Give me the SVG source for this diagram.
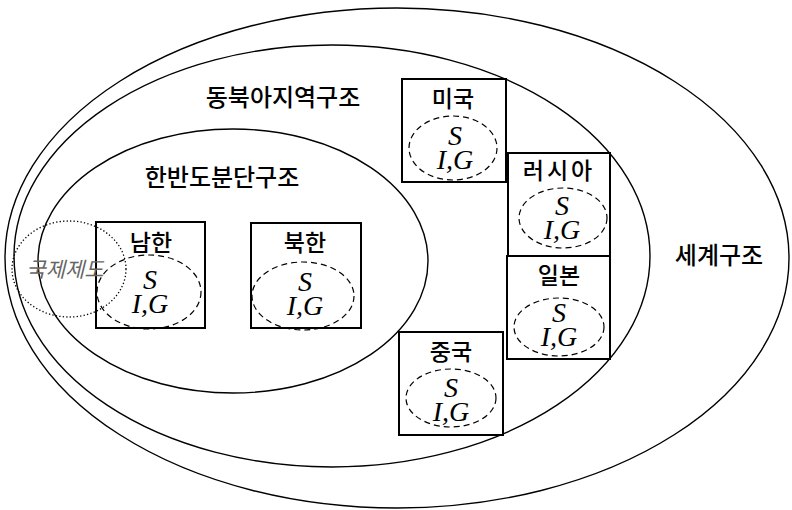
<svg xmlns="http://www.w3.org/2000/svg" width="792" height="510" viewBox="0 0 792 510">
<style>
.ring{fill:none;stroke:#000;stroke-width:1.4}
.box{fill:#fff;stroke:#000;stroke-width:2}
.dash{fill:none;stroke:#000;stroke-width:1.2;stroke-dasharray:6 4}
.dot{fill:none;stroke:#000;stroke-width:1.3;stroke-dasharray:1.3 2.2}
.title{font-family:"Noto Sans CJK KR","Noto Sans",sans-serif;font-size:24px;font-weight:500;fill:#000;text-anchor:middle}
.lab{font-family:"Noto Sans CJK KR","Noto Sans",sans-serif;font-size:23px;font-weight:500;fill:#000;text-anchor:middle}
.var{font-family:"Liberation Serif",serif;font-style:italic;font-size:28px;fill:#000;text-anchor:middle}
.gray{font-family:"Noto Sans CJK KR","Noto Sans",sans-serif;font-size:21px;fill:#666;text-anchor:middle;font-style:italic}
</style>
<rect width="792" height="510" fill="#fff"/>
<g id="world">
<ellipse class="ring" cx="397" cy="258" rx="392" ry="250"/>
<text class="title" x="719" y="264">세계구조</text>
</g>
<g id="northeast-asia">
<ellipse class="ring" cx="332" cy="256" rx="318" ry="211"/>
<text class="title" x="283" y="106">동북아지역구조</text>
</g>
<g id="korean-peninsula">
<ellipse class="ring" cx="233" cy="261" rx="195" ry="132"/>
<text class="title" x="222" y="186">한반도분단구조</text>
</g>
<g id="south-korea">
<rect class="box" x="96" y="222" width="109" height="106"/>
<text class="lab" x="151" y="251">남한</text>
<ellipse class="dash" cx="149" cy="292" rx="52" ry="37"/>
<text class="var" x="150" y="289">S<tspan x="150" dy="24">I,G</tspan></text>
</g>
<g id="north-korea">
<rect class="box" x="251" y="223" width="110" height="105"/>
<text class="lab" x="305" y="251">북한</text>
<ellipse class="dash" cx="303" cy="296" rx="51" ry="34"/>
<text class="var" x="305" y="291">S<tspan x="305" dy="24">I,G</tspan></text>
</g>
<g id="usa">
<rect class="box" x="402" y="79" width="104" height="103"/>
<text class="lab" x="453" y="107">미국</text>
<ellipse class="dash" cx="453" cy="148" rx="44" ry="32"/>
<text class="var" x="455" y="145">S<tspan x="455" dy="24">I,G</tspan></text>
</g>
<g id="russia">
<rect class="box" x="508" y="153" width="102" height="103"/>
<text class="lab" x="559" y="179" letter-spacing="3">러시아</text>
<ellipse class="dash" cx="563" cy="218" rx="44" ry="30"/>
<text class="var" x="562" y="215">S<tspan x="562" dy="24">I,G</tspan></text>
</g>
<g id="japan">
<rect class="box" x="507" y="256" width="103" height="103"/>
<text class="lab" x="559" y="284">일본</text>
<ellipse class="dash" cx="559" cy="327" rx="45" ry="29"/>
<text class="var" x="559" y="322">S<tspan x="559" dy="24">I,G</tspan></text>
</g>
<g id="china">
<rect class="box" x="399" y="332" width="104" height="103"/>
<text class="lab" x="451" y="360">중국</text>
<ellipse class="dash" cx="451" cy="398" rx="45" ry="29"/>
<text class="var" x="451" y="397">S<tspan x="451" dy="24">I,G</tspan></text>
</g>
<g id="intl-institutions">
<ellipse class="dot" cx="69" cy="269" rx="57" ry="48"/>
<text class="gray" x="65" y="277">국제제도</text>
</g>
<g id="connectors"></g>
</svg>
